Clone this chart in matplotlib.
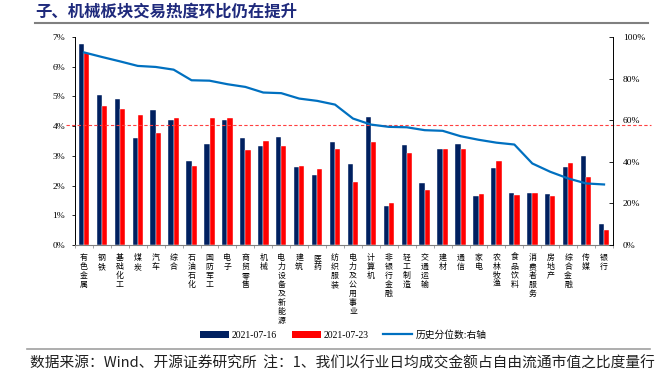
import matplotlib
matplotlib.use("Agg")
import matplotlib.pyplot as plt
import matplotlib.transforms as mtransforms
from matplotlib.patches import Patch
from matplotlib.lines import Line2D
import numpy as np

plt.rcParams['font.family'] = ['Noto Sans CJK SC', 'DejaVu Sans']

# 行业名称
industries = ['有色金属', '钢铁', '基础化工', '煤炭', '汽车', '综合', '石油石化', '国防军工',
              '电子', '商贸零售', '机械', '电力设备及新能源', '建筑', '医药', '纺织服装',
              '电力及公用事业', '计算机', '非银行金融', '轻工制造', '交通运输', '建材', '通信',
              '家电', '农林牧渔', '食品饮料', '消费者服务', '房地产', '综合金融', '传媒', '银行']

# 成交热度 (%)
heat_0716 = [6.78, 5.04, 4.93, 3.61, 4.56, 4.20, 2.83, 3.41, 4.19, 3.61, 3.34, 3.62, 2.62, 2.34, 3.46,
             2.71, 4.30, 1.31, 3.36, 2.07, 3.24, 3.40, 1.64, 2.60, 1.75, 1.75, 1.71, 2.62, 2.99, 0.71]
heat_0723 = [6.47, 4.67, 4.57, 4.36, 3.78, 4.26, 2.67, 4.29, 4.26, 3.20, 3.49, 3.34, 2.65, 2.56, 3.23,
             2.12, 3.46, 1.41, 3.09, 1.86, 3.24, 3.22, 1.71, 2.83, 1.68, 1.75, 1.64, 2.77, 2.29, 0.50]

# 历史分位数 (%)，右轴
percentile = [92.6, 90.4, 88.3, 86.1, 85.6, 84.3, 79.2, 79.0, 77.3, 76.0, 73.3, 73.0, 70.4, 69.3, 67.5,
              60.8, 57.9, 56.8, 56.6, 55.2, 54.9, 52.3, 50.6, 49.2, 48.3, 39.2, 35.2, 32.0, 29.6, 29.1]

# 历史均值参考线 (%)
ref_level = 4.05

NAVY = '#002060'
RED = '#FF0000'
BLUE = '#0070C0'
serif = ['Liberation Serif', 'Noto Sans CJK SC']

fig = plt.figure(figsize=(6.56, 3.80), dpi=100)
ax = fig.add_axes([75/656, 1-245/380, (613-75)/656, (245-37)/380])
ax2 = ax.twinx()

x = np.arange(len(industries)) + 0.5
w = 0.29
ax.bar(x - w/2, heat_0716, width=w, color=NAVY, edgecolor='white', linewidth=0.3, zorder=2)
ax.bar(x + w/2, heat_0723, width=w, color=RED, edgecolor='white', linewidth=0.3, zorder=2)

trans = mtransforms.blended_transform_factory(ax.transAxes, ax.transData)
ax.plot([-0.017, 1.07], [ref_level, ref_level], transform=trans, clip_on=False,
        color='#FF4040', lw=0.8, dashes=(3, 2), zorder=3)

ax2.plot(x, percentile, color=BLUE, lw=1.6, zorder=4)

ax.set_xlim(0, len(industries))
ax.set_ylim(0, 7)
ax2.set_ylim(0, 100)
ax.set_yticks(range(0, 8))
ax.set_yticklabels([f'{v}%' for v in range(0, 8)], family=serif, fontsize=6.8)
ax2.set_yticks(range(0, 101, 20))
ax2.set_yticklabels([f'{v}%' for v in range(0, 101, 20)], family=serif, fontsize=6.8)

ax.tick_params(axis='y', direction='out', length=2, width=0.6, pad=5)
ax2.tick_params(axis='y', direction='in', length=3, width=0.6, pad=7)
ax.set_xticks([])
ax.set_xticks(np.arange(0, len(industries) + 1), minor=True)
ax.tick_params(axis='x', which='minor', direction='out', length=2, width=0.5, color='#808080')

for a in (ax, ax2):
    a.spines['top'].set_visible(False)
ax.spines['right'].set_visible(False)
ax.spines['left'].set_linewidth(0.7)
ax2.spines['right'].set_linewidth(0.7)
ax2.spines['left'].set_visible(False)
ax.spines['bottom'].set_color('#808080')
ax2.spines['bottom'].set_visible(False)

# 竖排行业名称，逐字排列
xt = ax.get_xaxis_transform()
for xi, name in zip(x, industries):
    for k, ch in enumerate(name):
        off = mtransforms.ScaledTranslation(0, -(8 + k * 9.0) / 100, fig.dpi_scale_trans)
        ax.text(xi, 0, ch, transform=xt + off, ha='center', va='top', fontsize=5.7)

# 图例
handles = [Patch(facecolor=NAVY, label='2021-07-16'),
           Patch(facecolor=RED, label='2021-07-23'),
           Line2D([0], [0], color=BLUE, lw=1.6, label='历史分位数:右轴')]
fig.legend(handles=handles, loc='center', bbox_to_anchor=(343/656, 1-335/380), ncol=3,
           frameon=False, prop={'family': serif, 'size': 7}, handlelength=3.0,
           handleheight=0.7, handletextpad=0.3, columnspacing=1.5)

# 标题与脚注
fig.text(35/656, 1-12/380, '子、机械板块交易热度环比仍在提升', fontsize=11.8, fontweight='bold',
         color='#1F2A7C', ha='left', va='center')
fig.add_artist(Line2D([35/656, 648/656], [1-23/380, 1-23/380], color='#808080', lw=1.5))
fig.add_artist(Line2D([27/656, 650/656], [1-349/380, 1-349/380], color='#A0A0A0', lw=1.2))
fig.text(30/656, 1-363/380, '数据来源：Wind、开源证券研究所  注：1、我们以行业日均成交金额占自由流通市值之比度量行',
         fontsize=10.6, ha='left', va='center', color='#202020')

fig.savefig('out.png', dpi=100)
